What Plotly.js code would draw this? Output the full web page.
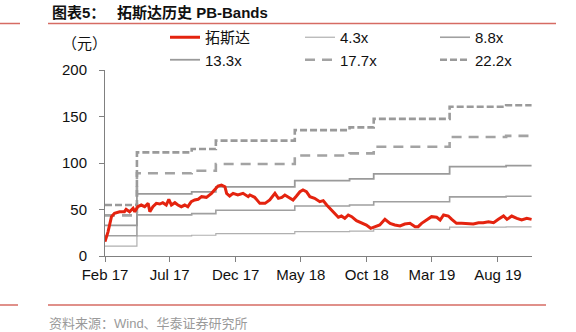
<!DOCTYPE html>
<html>
<head>
<meta charset="utf-8">
<script src="https://cdn.plot.ly/plotly-3.0.1.min.js"></script>
<style>html,body{margin:0;padding:0;background:#fff;}#chart{width:576px;height:332px;}</style>
</head>
<body>
<div id="chart"></div>
<script>
// ---- data ----
var priceName = '拓斯达';
var priceDates = ['2017-02-01','2017-02-08','2017-02-16','2017-02-23','2017-03-07','2017-03-18','2017-03-22','2017-03-30','2017-04-07','2017-04-11','2017-04-18','2017-04-26','2017-05-04','2017-05-12','2017-05-16','2017-05-23','2017-05-31','2017-06-08','2017-06-15','2017-06-23','2017-06-29','2017-07-05','2017-07-13','2017-07-20','2017-07-28','2017-08-05','2017-08-12','2017-08-20','2017-08-28','2017-09-05','2017-09-13','2017-09-24','2017-10-06','2017-10-13','2017-10-21','2017-10-29','2017-11-06','2017-11-10','2017-11-17','2017-11-25','2017-12-06','2017-12-18','2017-12-30','2018-01-03','2018-01-14','2018-01-26','2018-02-07','2018-02-18','2018-03-02','2018-03-10','2018-03-18','2018-03-25','2018-04-01','2018-04-13','2018-04-21','2018-04-29','2018-05-06','2018-05-14','2018-05-22','2018-06-02','2018-06-14','2018-06-22','2018-06-30','2018-07-11','2018-07-19','2018-07-27','2018-08-03','2018-08-11','2018-08-19','2018-08-27','2018-09-07','2018-09-19','2018-09-30','2018-10-10','2018-10-20','2018-10-31','2018-11-12','2018-11-24','2018-12-05','2018-12-17','2018-12-28','2019-01-09','2019-01-21','2019-01-28','2019-02-05','2019-02-17','2019-02-28','2019-03-12','2019-03-20','2019-03-28','2019-04-08','2019-04-16','2019-04-27','2019-05-09','2019-05-24','2019-06-05','2019-06-17','2019-06-28','2019-07-10','2019-07-22','2019-08-02','2019-08-14','2019-08-22','2019-09-02','2019-09-14','2019-09-25','2019-10-07','2019-10-18'];
var priceValues = [15.4,26,42.3,46,47.6,47.6,50.2,47.6,51.3,47.6,53,54.8,53,56.6,47.6,53,56.6,55.9,57.3,54.8,61,54.8,57.3,54.8,53,54.8,53,58.4,60.2,61,63.8,63.1,67.4,71,75.3,76.3,74.5,67.4,64.5,67.4,65.6,67.4,63.8,65.6,63.1,56.6,56.6,60.2,67.4,62,63.1,65.6,63.8,60.2,64.5,69.1,71,69.1,63.8,62,58.4,59.5,54.8,49.5,45.9,41.6,43,40.5,44.1,42.3,38,35.8,33.3,29.8,31.5,33.3,39.4,35,33.3,32.3,34.4,35.1,31.5,31.5,35.1,38.7,42.3,41.6,38.7,44.1,43,39.4,35.1,35.1,34.4,34.4,35.8,35.8,36.9,35.8,39.4,43,39.4,43,40.5,38.7,40.5,39.4];

var bandDates = ['2017-02-01','2017-04-16','2017-08-21','2017-10-16','2018-04-17','2018-08-22','2018-10-17','2019-04-11','2019-08-20'];
var bandEnd = '2019-10-18';
var bandNames = ['4.3x','8.8x','13.3x','17.7x','22.2x'];
var band43  = [10.6,21.6,22.3,24.0,26.2,26.8,28.6,31.1,31.4];
var band88  = [21.7,44.2,45.6,49.2,53.7,54.8,58.4,63.6,64.2];
var band133 = [32.9,66.8,68.9,74.3,81.1,82.9,88.3,96.2,97.1];
var band177 = [43.7,88.9,91.7,98.9,108.0,110.3,117.5,128.0,129.2];
var band222 = [54.8,111.4,115.0,124.1,135.4,138.3,147.4,160.5,162.1];

var xTicks = ['2017-02-01','2017-07-01','2017-12-01','2018-05-01','2018-10-01','2019-03-01','2019-08-01'];
var yTicks = [0,50,100,150,200];

// ---- layout helpers ----
var L = 105, R = 44, T = 70, B = 76, W = 576, H = 332;
var PW = W - L - R, PH = H - T - B;
function P(px){ return (px - L) / PW; }
function Q(py){ return (H - B - py) / PH; }

var FONT = 'Liberation Sans, Arial, Noto Sans CJK SC, sans-serif';

var bandStyles = [
  {color:'#b0b0b0', width:1.2, dash:'solid'},
  {color:'#a0a0a0', width:1.6, dash:'solid'},
  {color:'#9a9a9a', width:1.8, dash:'solid'},
  {color:'#a3a3a3', width:2.6, dash:'10px,7px'},
  {color:'#9a9a9a', width:2.6, dash:'7px,3px'}
];
var bandData = [band43, band88, band133, band177, band222];

var traces = [];
bandData.forEach(function(vals, i){
  traces.push({
    type:'scatter', mode:'lines', name: bandNames[i],
    x: bandDates.concat([bandEnd]),
    y: vals.concat([vals[vals.length-1]]),
    line: {shape:'hv', color: bandStyles[i].color, width: bandStyles[i].width, dash: bandStyles[i].dash},
    legendrank: i + 2, hoverinfo:'skip'
  });
});
traces.push({
  type:'scatter', mode:'lines', name: priceName,
  x: priceDates, y: priceValues,
  line: {color:'#e4230f', width:3},
  legendrank: 1, hoverinfo:'skip'
});

var rule = '#d66b63';
var layout = {
  width: W, height: H,
  margin: {l:L, r:R, t:T, b:B, pad:0, autoexpand:false},
  paper_bgcolor:'#fff', plot_bgcolor:'#fff',
  font: {family: FONT, size: 15, color:'#111'},
  showlegend: true,
  legend: {
    orientation:'h', xref:'container', yref:'container',
    x: 165/W, xanchor:'left', y: 1 - 21/H, yanchor:'top',
    entrywidth: 90, entrywidthmode:'pixels',
    font: {family: FONT, size: 15, color:'#111'},
    bgcolor:'rgba(0,0,0,0)', borderwidth:0, traceorder:'normal'
  },
  xaxis: {
    type:'date', range:['2017-02-01','2019-10-19'],
    tickvals: xTicks, tickformat:'%b %y',
    showgrid:false, zeroline:false, showline:true, linecolor:'#808080', linewidth:1,
    ticks:'outside', ticklen:5, tickcolor:'#808080',
    tickfont:{family: FONT, size: 15, color:'#111'}
  },
  yaxis: {
    range:[0,200], tickvals: yTicks,
    showgrid:false, zeroline:false, showline:true, linecolor:'#808080', linewidth:1,
    ticks:'outside', ticklen:5, tickcolor:'#808080', ticklabelstandoff: 9,
    tickfont:{family: FONT, size: 15, color:'#111'}
  },
  annotations: [
    {xref:'paper', yref:'paper', x:P(50), y:Q(12.5), xanchor:'left', yanchor:'middle', showarrow:false,
     text:'<b>图表5：</b>', font:{family: FONT, size:15, color:'#111'}},
    {xref:'paper', yref:'paper', x:P(115), y:Q(12.5), xanchor:'left', yanchor:'middle', showarrow:false,
     text:'<b>拓斯达历史 PB-Bands</b>', font:{family: FONT, size:15, color:'#111'}},
    {xref:'paper', yref:'paper', x:P(84), y:Q(44), xanchor:'center', yanchor:'middle', showarrow:false,
     text:'（元）', font:{family: FONT, size:15, color:'#111'}},
    {xref:'paper', yref:'paper', x:P(47), y:Q(323), xanchor:'left', yanchor:'middle', showarrow:false,
     text:'资料来源：Wind、华泰证券研究所', font:{family: FONT, size:13, color:'#9a9a9a'}}
  ],
  shapes: [
    {type:'line', xref:'paper', yref:'paper', x0:P(0), x1:P(20), y0:Q(23.5), y1:Q(23.5), line:{color:rule, width:1.5}},
    {type:'line', xref:'paper', yref:'paper', x0:P(48), x1:P(556), y0:Q(23.5), y1:Q(23.5), line:{color:rule, width:1.5}},
    {type:'line', xref:'paper', yref:'paper', x0:P(0), x1:P(18), y0:Q(305), y1:Q(305), line:{color:rule, width:1.5}},
    {type:'line', xref:'paper', yref:'paper', x0:P(48), x1:P(546), y0:Q(305), y1:Q(305), line:{color:rule, width:1.5}}
  ]
};

Plotly.newPlot('chart', traces, layout, {displayModeBar:false, staticPlot:true});
</script>
</body>
</html>
